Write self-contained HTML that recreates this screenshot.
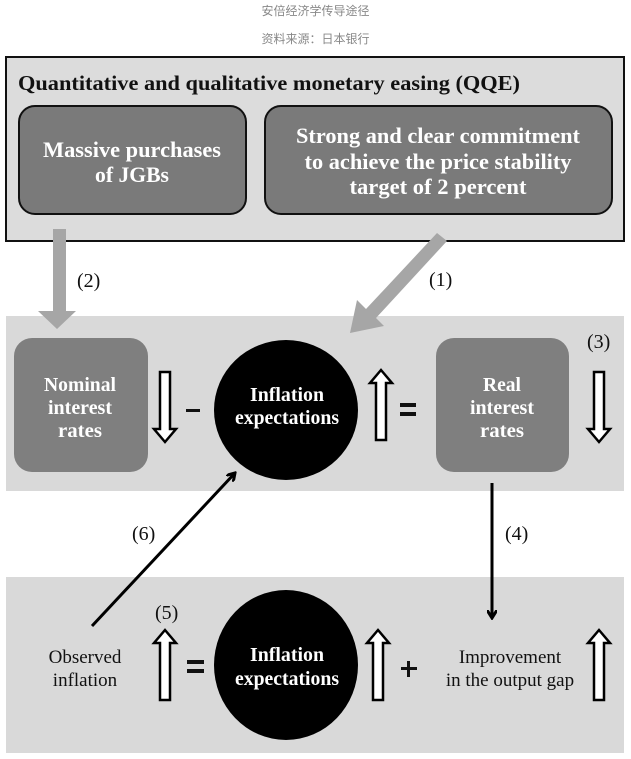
<!DOCTYPE html>
<html><head><meta charset="utf-8"><style>
html,body{margin:0;padding:0;background:#fff;}
svg{display:block;}
.s{font-family:"Liberation Serif",serif;}
.c{font-family:"Liberation Sans","Noto Sans CJK SC",sans-serif;}
</style></head><body>
<svg width="631" height="759" viewBox="0 0 631 759" xmlns="http://www.w3.org/2000/svg">
<defs>
<marker id="ah" markerWidth="10" markerHeight="10" refX="8" refY="5" orient="auto" markerUnits="userSpaceOnUse">
<path d="M0,0 L8,5 L0,10" fill="none" stroke="#000" stroke-width="3"/>
</marker>
<g id="up"><path d="M-5,35 L-5,-22 L-11,-22 L0,-35 L11,-22 L5,-22 L5,35 Z" fill="#fff" stroke="#000" stroke-width="2.5"/></g>
<g id="dn"><path d="M-5,-35 L-5,22 L-11,22 L0,35 L11,22 L5,22 L5,-35 Z" fill="#fff" stroke="#000" stroke-width="2.5"/></g>
</defs>
<text x="315.5" y="15" text-anchor="middle" class="c" font-size="12" fill="#888">安倍经济学传导途径</text>
<text x="315.5" y="43" text-anchor="middle" class="c" font-size="12" fill="#888">资料来源：日本银行</text>

<rect x="6" y="57" width="618" height="184" fill="#dcdcdc" stroke="#111" stroke-width="2"/>
<text x="18" y="90" class="s" font-weight="bold" font-size="21" textLength="502" lengthAdjust="spacingAndGlyphs" fill="#111">Quantitative and qualitative monetary easing (QQE)</text>
<rect x="19" y="106" width="227" height="108" rx="16" fill="#7a7a7a" stroke="#111" stroke-width="2"/>
<rect x="265" y="106" width="347" height="108" rx="16" fill="#7a7a7a" stroke="#111" stroke-width="2"/>
<g class="s" font-weight="bold" font-size="22" fill="#fff" text-anchor="middle">
<text x="132" y="157" textLength="178" lengthAdjust="spacingAndGlyphs">Massive purchases</text>
<text x="132" y="182" textLength="74" lengthAdjust="spacingAndGlyphs">of JGBs</text>
<text x="438" y="143" textLength="284" lengthAdjust="spacingAndGlyphs">Strong and clear commitment</text>
<text x="438" y="169" textLength="267" lengthAdjust="spacingAndGlyphs">to achieve the price stability</text>
<text x="438" y="194" textLength="177" lengthAdjust="spacingAndGlyphs">target of 2 percent</text>
</g>

<rect x="6" y="316" width="618" height="175" fill="#d9d9d9"/>
<rect x="6" y="577" width="618" height="176" fill="#d9d9d9"/>

<path d="M53,229 L66,229 L66,311 L76,311 L57,329 L38,311 L53,311 Z" fill="#a6a6a6"/>
<path d="M437,233 L447,241 L376,318 L384,326 L350,333 L357,300 L366,309 Z" fill="#a6a6a6"/>
<g class="s" font-size="20" fill="#111">
<text x="77" y="287">(2)</text>
<text x="429" y="286">(1)</text>
<text x="587" y="348">(3)</text>
<text x="505" y="540">(4)</text>
<text x="132" y="540">(6)</text>
<text x="155" y="619">(5)</text>
</g>

<rect x="14" y="338" width="134" height="134" rx="18" fill="#7f7f7f"/>
<rect x="436" y="338" width="133" height="134" rx="18" fill="#7f7f7f"/>
<ellipse cx="286" cy="410" rx="72" ry="70" fill="#000"/>
<g class="s" font-weight="bold" font-size="20" fill="#fff" text-anchor="middle">
<text x="80" y="391" textLength="72" lengthAdjust="spacingAndGlyphs">Nominal</text>
<text x="80" y="414" textLength="64" lengthAdjust="spacingAndGlyphs">interest</text>
<text x="80" y="437" textLength="44" lengthAdjust="spacingAndGlyphs">rates</text>
<text x="502" y="391" textLength="38" lengthAdjust="spacingAndGlyphs">Real</text>
<text x="502" y="414" textLength="64" lengthAdjust="spacingAndGlyphs">interest</text>
<text x="502" y="437" textLength="44" lengthAdjust="spacingAndGlyphs">rates</text>
<text x="287" y="401" textLength="74" lengthAdjust="spacingAndGlyphs">Inflation</text>
<text x="287" y="424" textLength="104" lengthAdjust="spacingAndGlyphs">expectations</text>
</g>
<use href="#dn" x="165" y="407"/>
<use href="#up" x="381" y="405"/>
<use href="#dn" x="599" y="407"/>
<rect x="186" y="409" width="14" height="3" fill="#111"/>
<rect x="400" y="403" width="16" height="4" fill="#111"/>
<rect x="400" y="412" width="16" height="4" fill="#111"/>

<line x1="492" y1="483" x2="492" y2="618" stroke="#000" stroke-width="3" marker-end="url(#ah)"/>
<line x1="92" y1="626" x2="235" y2="473" stroke="#000" stroke-width="3" marker-end="url(#ah)"/>

<ellipse cx="286" cy="665" rx="72" ry="75" fill="#000"/>
<g class="s" font-weight="bold" font-size="20" fill="#fff" text-anchor="middle">
<text x="287" y="661" textLength="74" lengthAdjust="spacingAndGlyphs">Inflation</text>
<text x="287" y="685" textLength="104" lengthAdjust="spacingAndGlyphs">expectations</text>
</g>
<g class="s" font-size="19" fill="#111" text-anchor="middle">
<text x="85" y="663">Observed</text>
<text x="85" y="686">inflation</text>
<text x="510" y="663">Improvement</text>
<text x="510" y="686">in the output gap</text>
</g>
<use href="#up" x="165" y="665"/>
<use href="#up" x="378" y="665"/>
<use href="#up" x="599" y="665"/>
<rect x="187" y="660" width="17" height="4" fill="#111"/>
<rect x="187" y="669" width="17" height="4" fill="#111"/>
<rect x="401" y="667" width="16" height="3" fill="#111"/>
<rect x="407" y="661" width="3" height="16" fill="#111"/>
</svg>
</body></html>
